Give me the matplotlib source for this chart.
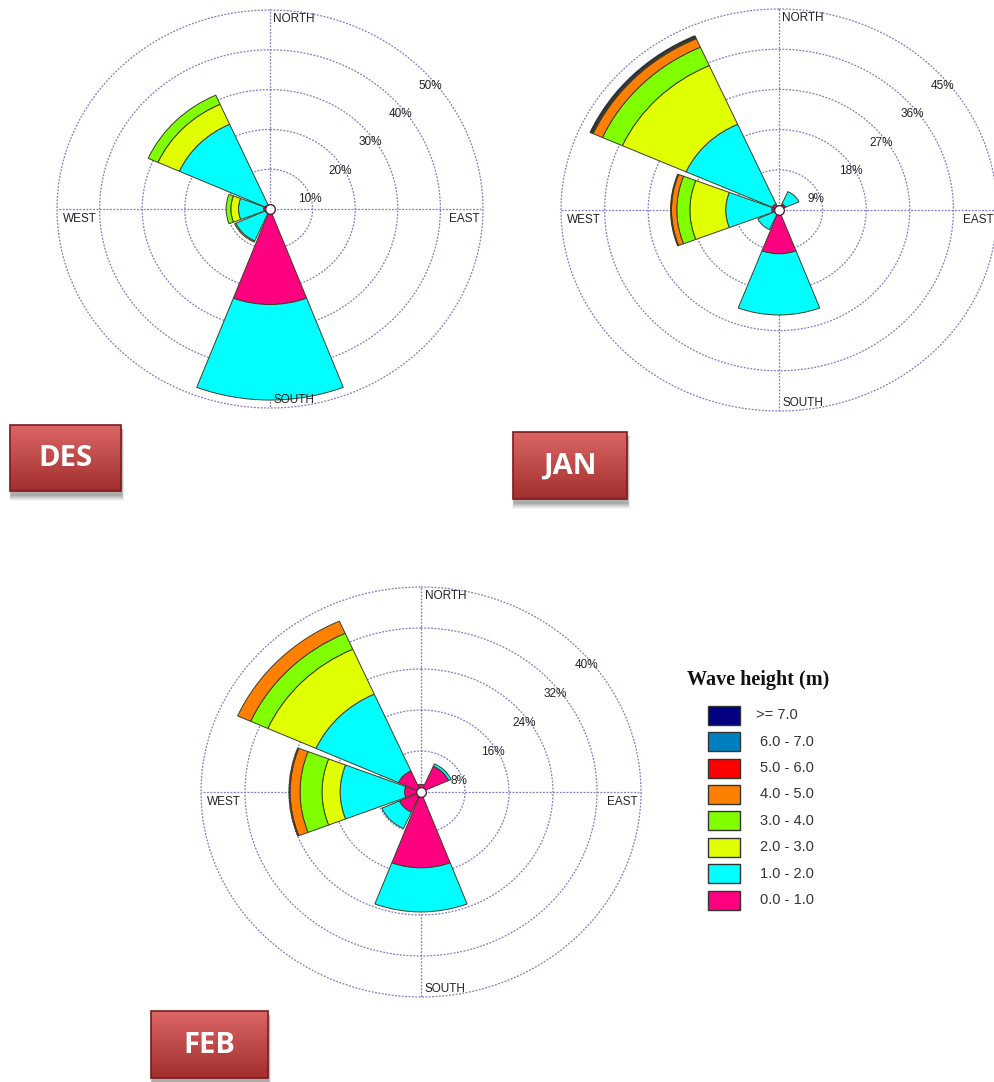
import numpy as np
import matplotlib.pyplot as plt
from matplotlib.patches import Rectangle

plt.rcParams['font.family'] = ['Liberation Sans', 'DejaVu Sans']

W, H = 994, 1082

directions = ['N', 'NE', 'E', 'SE', 'S', 'SW', 'W', 'NW']
bins = ['0.0 - 1.0', '1.0 - 2.0', '2.0 - 3.0', '3.0 - 4.0',
        '4.0 - 5.0', '5.0 - 6.0', '6.0 - 7.0', '>= 7.0']
colors = ['#ff0080', '#00ffff', '#e0ff00', '#80ff00',
          '#ff8000', '#ff0000', '#0080c0', '#000080']

# frequency (%) of each wave-height class, ordered as `directions`
des_h0 = [0, 0, 0, 0, 24.0, 1.2, 1.5, 1.2]
des_h1 = [0, 0, 0, 0, 24.0, 7.6, 5.9, 22.1]
des_h2 = [0, 0, 0, 0, 0, 0.3, 1.8, 5.5]
des_h3 = [0, 0, 0, 0, 0, 0, 1.1, 2.5]
des_h4 = [0, 0, 0, 0, 0, 0, 0, 0]
des_h5 = [0, 0, 0, 0, 0, 0, 0, 0]
des_h6 = [0, 0, 0, 0, 0, 0, 0, 0]
des_h7 = [0, 0, 0, 0, 0, 0, 0, 0]

jan_h0 = [0, 1.5, 0, 0, 9.8, 0.8, 1.5, 1.5]
jan_h1 = [0, 3.0, 0, 0, 13.7, 4.0, 9.5, 19.5]
jan_h2 = [0, 0, 0, 0, 0, 0, 7.4, 14.4]
jan_h3 = [0, 0, 0, 0, 0, 0, 2.7, 4.5]
jan_h4 = [0, 0, 0, 0, 0, 0, 1.1, 2.1]
jan_h5 = [0, 0, 0, 0, 0, 0, 0.2, 0.2]
jan_h6 = [0, 0, 0, 0, 0, 0, 0, 0.2]
jan_h7 = [0, 0, 0, 0, 0, 0, 0, 0.3]

feb_h0 = [1.5, 5.5, 0.8, 0, 14.8, 4.3, 3.0, 4.5]
feb_h1 = [0, 0.5, 0, 0, 8.6, 3.5, 11.7, 16.4]
feb_h2 = [0, 0, 0, 0, 0, 0, 3.3, 9.6]
feb_h3 = [0, 0, 0, 0, 0, 0, 4.0, 3.4]
feb_h4 = [0, 0, 0, 0, 0, 0, 1.8, 2.6]
feb_h5 = [0, 0, 0, 0, 0, 0, 0.2, 0]
feb_h6 = [0, 0, 0, 0, 0, 0, 0, 0]
feb_h7 = [0, 0, 0, 0, 0, 0, 0, 0]

des = [des_h0, des_h1, des_h2, des_h3, des_h4, des_h5, des_h6, des_h7]
jan = [jan_h0, jan_h1, jan_h2, jan_h3, jan_h4, jan_h5, jan_h6, jan_h7]
feb = [feb_h0, feb_h1, feb_h2, feb_h3, feb_h4, feb_h5, feb_h6, feb_h7]

grid_c = '#7c7cc4'
edge_c = '#3c3c28'

fig = plt.figure(figsize=(W / 100, H / 100), dpi=100)

# overlay in pixel units for the legend and month buttons
ov = fig.add_axes([0, 0, 1, 1])
ov.set_xlim(0, W)
ov.set_ylim(H, 0)
ov.axis('off')
ov.patch.set_visible(False)


def px_rect(cx, cy, rx, ry):
    return [(cx - rx) / W, 1 - (cy + ry) / H, 2 * rx / W, 2 * ry / H]


def draw_rose(cx, cy, rx, ry, data, step):
    ax = fig.add_axes(px_rect(cx, cy, rx, ry), projection='polar')
    ax.set_aspect('auto')
    ax.set_theta_zero_location('N')
    ax.set_theta_direction(-1)
    rmax = step * 5
    ax.set_ylim(0, rmax)
    ax.grid(False)
    ax.set_xticks([])
    ax.set_yticks([])
    ax.spines['polar'].set_visible(False)
    ax.patch.set_visible(False)

    t = np.linspace(0, 2 * np.pi, 400)
    for k in range(1, 6):
        r = step * k
        ax.plot(t, np.full_like(t, r), color=grid_c, lw=0.9,
                ls=(0, (1.5, 1.2)), zorder=1, clip_on=False)
        ax.annotate(f'{r:g}%', xy=(np.pi / 4, r), xytext=(-1.5, -8.5),
                    textcoords='offset points', ha='left', va='top',
                    fontsize=8.5, color='#222222', zorder=2)
    for a in np.radians([0, 90, 180, 270]):
        ax.plot([a, a], [0, rmax], color=grid_c, lw=0.9,
                ls=(0, (1.5, 1.2)), zorder=1, clip_on=False)

    theta = np.radians(np.arange(len(directions)) * 45)
    bottom = np.zeros(len(directions))
    for vals, c in zip(data, colors):
        vals = np.asarray(vals, float)
        m = vals > 0
        if m.any():
            ax.bar(theta[m], vals[m], width=np.radians(42), bottom=bottom[m],
                   color=c, edgecolor=edge_c, linewidth=0.7, zorder=3)
        bottom += vals
    ax.plot(0, 0, 'o', ms=7, mfc='white', mec='#5a1a3a', mew=1.0,
            zorder=6, clip_on=False)

    kw = dict(transform=ax.transAxes, fontsize=8.5, color='#222222', zorder=7)
    ax.text(0.508, 0.992, 'NORTH', ha='left', va='top', **kw)
    ax.text(0.508, 0.004, 'SOUTH', ha='left', va='bottom', **kw)
    ax.text(0.013, 0.49, 'WEST', ha='left', va='top', **kw)
    ax.text(0.992, 0.49, 'EAST', ha='right', va='top', **kw)
    return ax


draw_rose(270, 209, 213, 199, des, 10)
draw_rose(779, 210, 218, 201, jan, 9)
draw_rose(421, 792, 220, 205, feb, 8)

# legend
ov.text(687, 680, 'Wave height (m)', family=['Liberation Serif'],
        fontsize=14.5, weight='bold', ha='left', va='center', color='#111111')
for i in range(len(bins)):
    j = len(bins) - 1 - i
    yc = 715.3 + 26.4 * i
    ov.add_patch(Rectangle((708, yc - 9.5), 32, 19, facecolor=colors[j],
                           edgecolor='#333333', lw=1.0))
    ov.text(756 if j == len(bins) - 1 else 760, yc, bins[j], fontsize=10.5,
            ha='left', va='center', color='#333333')


def month_button(x0, y0, x1, y1, label):
    # soft drop shadow
    for k, a in zip(range(6, 0, -1), [0.05, 0.07, 0.09, 0.11, 0.13, 0.16]):
        ov.add_patch(Rectangle((x0 + 1 - k * 0.3, y0 + 4), x1 - x0 + k * 0.6,
                               y1 - y0 + k, facecolor='#555555', alpha=a,
                               edgecolor='none', zorder=1))
    top = np.array([0.86, 0.40, 0.40])
    bot = np.array([0.64, 0.18, 0.18])
    t = np.linspace(0, 1, 80)[:, None, None]
    grad = top * (1 - t) + bot * t
    ov.imshow(grad, extent=[x0, x1, y1, y0], origin='upper', aspect='auto',
              zorder=2, interpolation='bilinear')
    ov.add_patch(Rectangle((x0, y0), x1 - x0, y1 - y0, facecolor='none',
                           edgecolor='#7a1c1c', lw=1.2, zorder=3))
    ov.text((x0 + x1) / 2, (y0 + y1) / 2 + 1, label, family=['Open Sans'],
            weight='bold', fontsize=21, color='white', ha='center',
            va='center', zorder=4)


month_button(10, 425, 121, 491, 'DES')
month_button(513, 432, 627, 499, 'JAN')
month_button(151, 1011, 268, 1078, 'FEB')

ov.set_xlim(0, W)
ov.set_ylim(H, 0)

fig.savefig('out.png', dpi=100, facecolor='white')
